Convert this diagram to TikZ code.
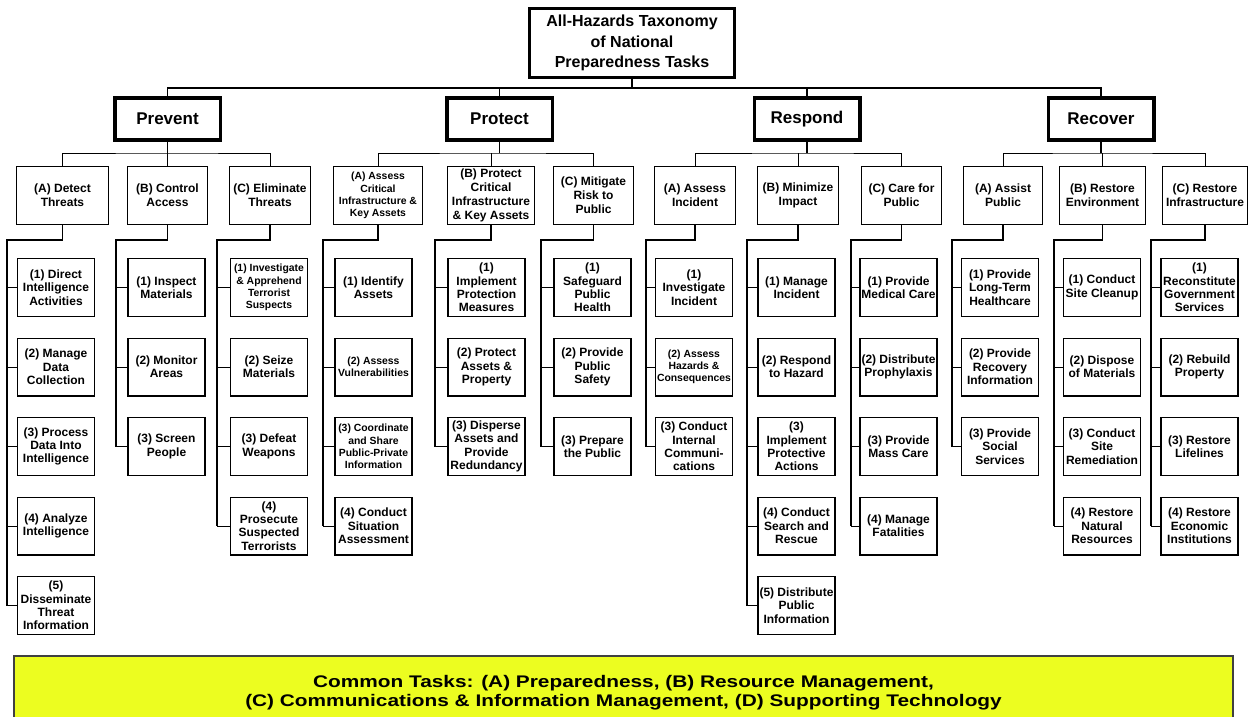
\documentclass[tikz,border=0pt]{standalone}
\usepackage{fontspec}
\setmainfont{Liberation Sans}
\newfontfamily\widefont[FakeStretch=1.24]{Liberation Sans}
\definecolor{tasky}{RGB}{236,253,32}
\tikzset{
 topbox/.style={draw, line width=3pt, minimum width=205pt, minimum height=69pt, align=center, inner sep=0pt, font=\fontsize{16}{20.5}\selectfont\bfseries},
 grpbox/.style={draw, line width=3.5pt, minimum width=105.5pt, minimum height=41.5pt, inner sep=0pt, font=\fontsize{17}{20}\selectfont\bfseries},
 l2box/.style={draw, line width=1.4pt, minimum width=#1, minimum height=57.6pt, align=center, inner sep=0pt, font=\fontsize{12}{14}\selectfont\bfseries},
 l3box/.style={draw, line width=1.4pt, minimum width=77pt, minimum height=57.6pt, align=center, inner sep=0pt, font=\fontsize{12}{13.3}\selectfont\bfseries},
 smalltext/.style={font=\fontsize{10.4}{12.3}\selectfont\bfseries},
 trunkline/.style={line width=1.6pt},
 tickline/.style={line width=0.9pt},
 thinbus/.style={line width=0.9pt},
 grpdrop/.style={line width=1.8pt},
 topbus/.style={line width=1.2pt}
}
\def\rowA{287.5}
\def\rowB{367}
\def\rowC{446.5}
\def\rowD{526}
\def\rowE{605.5}
\begin{document}
\begin{tikzpicture}[x=1pt,y=-1pt]
\useasboundingbox (0,0) rectangle (1251,717);
% top
\node[topbox] (top) at (632,43) {All-Hazards Taxonomy\\of National\\Preparedness Tasks};
% groups
\node[grpbox] (prevent) at (167.5,119) {Prevent};
\node[grpbox] (protect) at (499.5,119) {Protect};
\node[grpbox] (respond) at (807,119) {Respond};
\node[grpbox] (recover) at (1101,119) {Recover};
% level 2
\node[l2box=91.6pt] (pa) at (62.5,195.5) {(A) Detect\\Threats};
\node[l2box=79.6pt] (pb) at (167.5,195.5) {(B) Control\\Access};
\node[l2box=80.6pt] (pc) at (270,195.5) {(C) Eliminate\\Threats};
\node[l2box=88.6pt,smalltext] (ta) at (378,195.5) {(A) Assess\\Critical\\Infrastructure \&\\Key Assets};
\node[l2box=86.6pt] (tb) at (491,195.5) {(B) Protect\\Critical\\Infrastructure\\\& Key Assets};
\node[l2box=79.6pt] (tc) at (593.5,195.5) {(C) Mitigate\\Risk to\\Public};
\node[l2box=80.6pt] (ra) at (695,195.5) {(A) Assess\\Incident};
\node[l2box=80.6pt] (rb) at (798,195.5) {(B) Minimize\\Impact};
\node[l2box=79.6pt] (rc) at (901.5,195.5) {(C) Care for\\Public};
\node[l2box=78.6pt] (va) at (1003,195.5) {(A) Assist\\Public};
\node[l2box=85.6pt] (vb) at (1102.5,195.5) {(B) Restore\\Environment};
\node[l2box=84.6pt] (vc) at (1205,195.5) {(C) Restore\\Infrastructure};
% level 3 : Prevent
\node[l3box] (pa1) at (56,\rowA) {(1) Direct\\Intelligence\\Activities};
\node[l3box] (pa2) at (56,\rowB) {(2) Manage\\Data\\Collection};
\node[l3box] (pa3) at (56,\rowC) {(3) Process\\Data Into\\Intelligence};
\node[l3box] (pa4) at (56,\rowD) {(4) Analyze\\Intelligence};
\node[l3box] (pa5) at (56,\rowE) {(5)\\Disseminate\\Threat\\Information};
\node[l3box] (pb1) at (166.5,\rowA) {(1) Inspect\\Materials};
\node[l3box] (pb2) at (166.5,\rowB) {(2) Monitor\\Areas};
\node[l3box] (pb3) at (166.5,\rowC) {(3) Screen\\People};
\node[l3box,smalltext] (pc1) at (269,\rowA) {(1) Investigate\\\& Apprehend\\Terrorist\\Suspects};
\node[l3box] (pc2) at (269,\rowB) {(2) Seize\\Materials};
\node[l3box] (pc3) at (269,\rowC) {(3) Defeat\\Weapons};
\node[l3box] (pc4) at (269,\rowD) {(4)\\Prosecute\\Suspected\\Terrorists};
% Protect
\node[l3box] (ta1) at (373.5,\rowA) {(1) Identify\\Assets};
\node[l3box,smalltext] (ta2) at (373.5,\rowB) {(2) Assess\\Vulnerabilities};
\node[l3box,smalltext] (ta3) at (373.5,\rowC) {(3) Coordinate\\and Share\\Public-Private\\Information};
\node[l3box] (ta4) at (373.5,\rowD) {(4) Conduct\\Situation\\Assessment};
\node[l3box] (tb1) at (486.5,\rowA) {(1)\\Implement\\Protection\\Measures};
\node[l3box] (tb2) at (486.5,\rowB) {(2) Protect\\Assets \&\\Property};
\node[l3box] (tb3) at (486.5,\rowC) {(3) Disperse\\Assets and\\Provide\\Redundancy};
\node[l3box] (tc1) at (592.5,\rowA) {(1)\\Safeguard\\Public\\Health};
\node[l3box] (tc2) at (592.5,\rowB) {(2) Provide\\Public\\Safety};
\node[l3box] (tc3) at (592.5,\rowC) {(3) Prepare\\the Public};
% Respond
\node[l3box] (ra1) at (694,\rowA) {(1)\\Investigate\\Incident};
\node[l3box,smalltext] (ra2) at (694,\rowB) {(2) Assess\\Hazards \&\\Consequences};
\node[l3box] (ra3) at (694,\rowC) {(3) Conduct\\Internal\\Communi-\\cations};
\node[l3box] (rb1) at (796.5,\rowA) {(1) Manage\\Incident};
\node[l3box] (rb2) at (796.5,\rowB) {(2) Respond\\to Hazard};
\node[l3box] (rb3) at (796.5,\rowC) {(3)\\Implement\\Protective\\Actions};
\node[l3box] (rb4) at (796.5,\rowD) {(4) Conduct\\Search and\\Rescue};
\node[l3box] (rb5) at (796.5,\rowE) {(5) Distribute\\Public\\Information};
\node[l3box] (rc1) at (898.5,\rowA) {(1) Provide\\Medical Care};
\node[l3box] (rc2) at (898.5,\rowB) {(2) Distribute\\Prophylaxis};
\node[l3box] (rc3) at (898.5,\rowC) {(3) Provide\\Mass Care};
\node[l3box] (rc4) at (898.5,\rowD) {(4) Manage\\Fatalities};
% Recover
\node[l3box] (va1) at (1000,\rowA) {(1) Provide\\Long-Term\\Healthcare};
\node[l3box] (va2) at (1000,\rowB) {(2) Provide\\Recovery\\Information};
\node[l3box] (va3) at (1000,\rowC) {(3) Provide\\Social\\Services};
\node[l3box] (vb1) at (1102,\rowA) {(1) Conduct\\Site Cleanup};
\node[l3box] (vb2) at (1102,\rowB) {(2) Dispose\\of Materials};
\node[l3box] (vb3) at (1102,\rowC) {(3) Conduct\\Site\\Remediation};
\node[l3box] (vb4) at (1102,\rowD) {(4) Restore\\Natural\\Resources};
\node[l3box] (vc1) at (1199.5,\rowA) {(1)\\Reconstitute\\Government\\Services};
\node[l3box] (vc2) at (1199.5,\rowB) {(2) Rebuild\\Property};
\node[l3box] (vc3) at (1199.5,\rowC) {(3) Restore\\Lifelines};
\node[l3box] (vc4) at (1199.5,\rowD) {(4) Restore\\Economic\\Institutions};
% top bus
\coordinate (topj) at (632,88);
\draw[topbus] (top.south) -- (topj);
\draw[topbus] (prevent.north) |- (topj) -| (recover.north);
\draw[topbus] (protect.north) -- (protect.north |- topj);
\draw[topbus] (respond.north) -- (respond.north |- topj);
% group buses
\foreach \g/\a/\b/\c/\x in {prevent/pa/pb/pc/167.5, protect/ta/tb/tc/499.5, respond/ra/rb/rc/807, recover/va/vb/vc/1101}{
  \coordinate (\g j) at (\x,153);
  \draw[grpdrop] (\g.south) -- (\g j);
  \draw[thinbus] (\a.north) |- (\g j) -| (\c.north);
  \draw[thinbus] (\b.north) -- (\b.north |- \g j);
}
% trunks
\foreach \n/\tx/\last in {pa/7/5, pb/116/3, pc/217/4, ta/323/4, tb/435/3, tc/541/3, ra/646/3, rb/747/5, rc/851/4, va/952/3, vb/1054/4, vc/1151/4}{
  \coordinate (\n t) at (\tx,240);
  \draw[trunkline] (\n.south) |- (\n t) -- (\n t |- \n\last.west);
  \foreach \i in {1,...,\last}{
    \draw[tickline] (\n t |- \n\i.west) -- (\n\i.west);
  }
}
% common tasks
\path[fill=tasky, draw=black!75, line width=1.5pt] (14,656) rectangle (1233,725);
\node[align=center, font=\widefont\bfseries\fontsize{16.8}{19.5}\selectfont] (common) at (623.5,692.5) {Common Tasks: (A) Preparedness, (B) Resource Management,\\(C) Communications \& Information Management, (D) Supporting Technology};
\end{tikzpicture}
\end{document}
